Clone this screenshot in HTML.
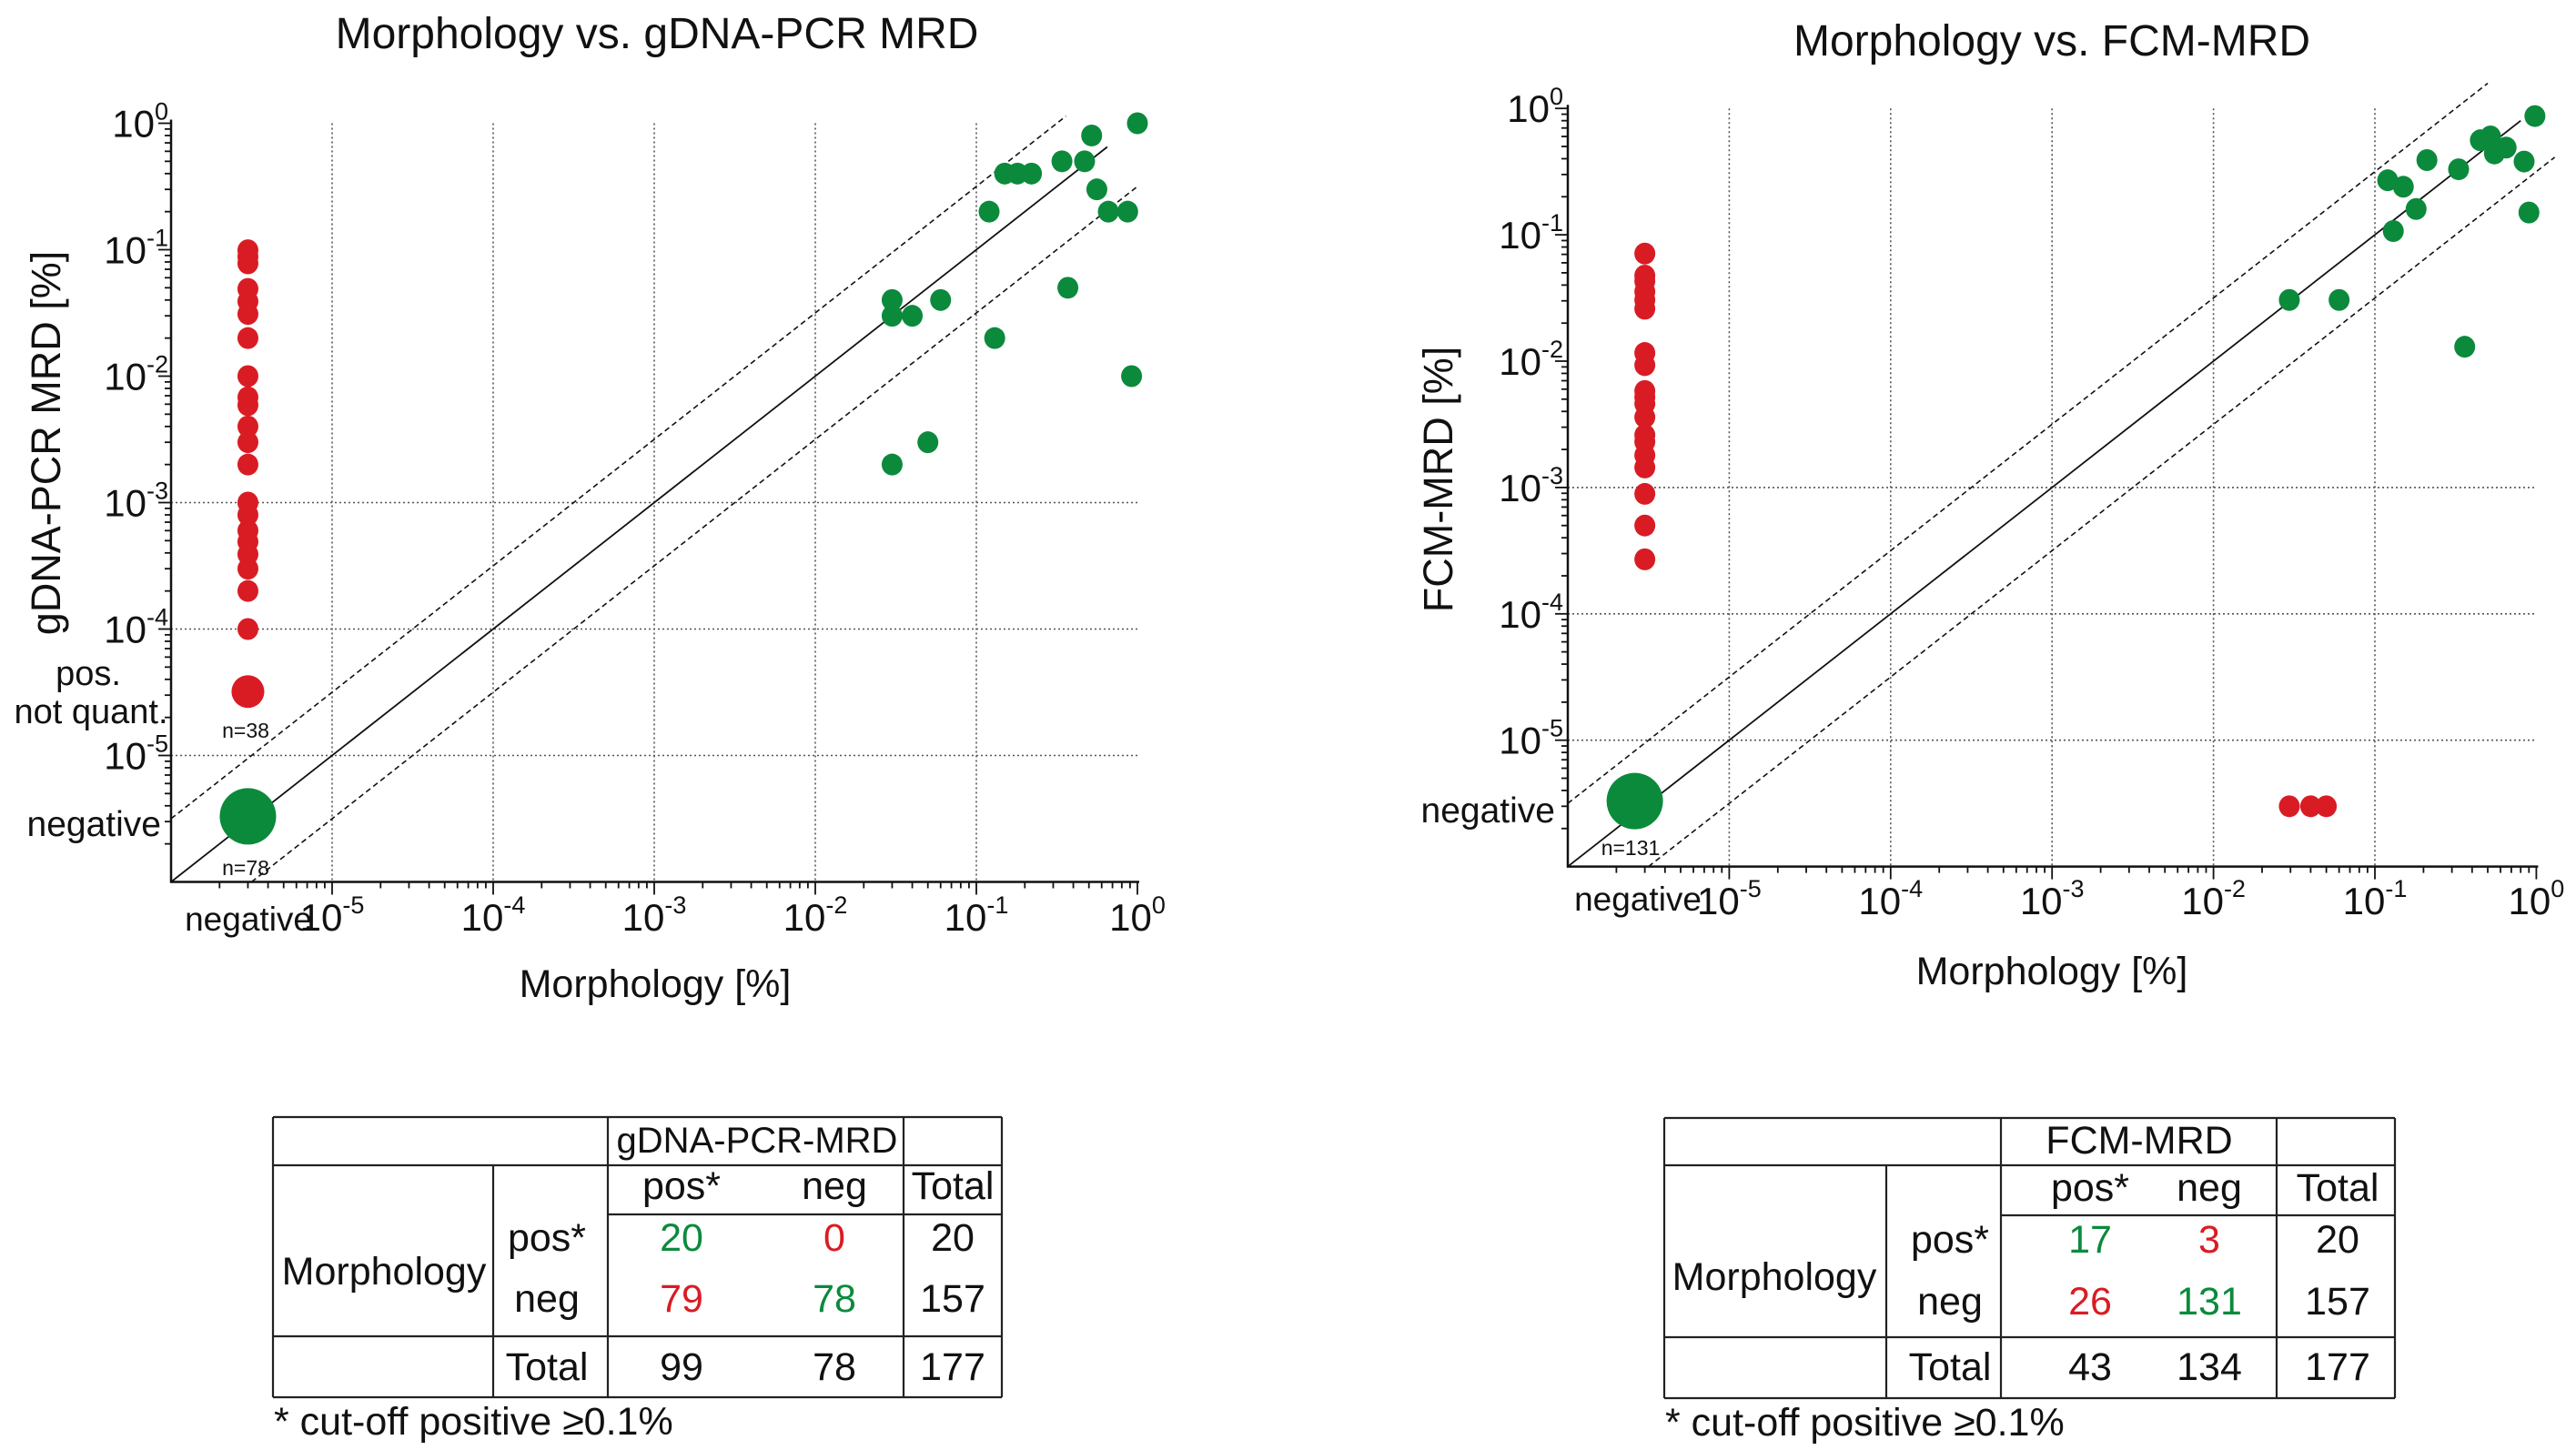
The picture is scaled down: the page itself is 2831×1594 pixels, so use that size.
<!DOCTYPE html>
<html><head><meta charset="utf-8">
<style>
html,body{margin:0;padding:0;background:#fff;}
svg{display:block;}
text{font-family:"Liberation Sans",sans-serif;fill:#111;}
.tb{font-family:"Liberation Sans Narrow","Liberation Sans",sans-serif;}
</style></head>
<body>
<svg id="fig" width="2831" height="1594" viewBox="0 0 2831 1594" xmlns="http://www.w3.org/2000/svg">
<g id="left"></g>
<g id="right"></g>
<g id="tables"></g>
</svg>
<script>
// ---- data ----
const decades = [-5,-4,-3,-2,-1,0];
const tickExps = ["-5","-4","-3","-2","-1","0"];
const negX = 3e-6;
// left chart: gDNA-PCR
const leftRedY = [0.099,0.088,0.078,0.049,0.039,0.031,0.02,0.01,0.0068,0.0059,0.004,0.003,0.002,0.001,0.0008,0.0006,0.00049,0.00039,0.0003,0.0002,0.0001];
const leftPnqY = [3.2e-5];
const leftNegY = [3.3e-6];
const leftGreenX = [1,0.52,0.34,0.47,0.15,0.18,0.22,0.56,0.12,0.66,0.87,0.37,0.03,0.03,0.04,0.06,0.13,0.92,0.05,0.03];
const leftGreenY = [1,0.8,0.5,0.5,0.4,0.4,0.4,0.3,0.2,0.2,0.2,0.05,0.04,0.03,0.03,0.04,0.02,0.01,0.003,0.002];
// right chart: FCM
const rightRedY = [0.071,0.0475,0.043,0.0355,0.0305,0.026,0.0116,0.0093,0.0058,0.0052,0.0046,0.0036,0.0026,0.0023,0.0018,0.00144,0.00089,0.0005,0.00027];
const rightNegY = [3.3e-6];
const rightRedBottomX = [0.0295,0.04,0.05];
const rightRedBottomY = [3e-6,3e-6,3e-6];
const rightGreenX = [0.98,0.45,0.52,0.55,0.65,0.84,0.21,0.33,0.12,0.15,0.18,0.13,0.9,0.0295,0.06,0.36];
const rightGreenY = [0.87,0.56,0.6,0.44,0.49,0.38,0.39,0.33,0.27,0.24,0.16,0.107,0.15,0.0305,0.0305,0.013];
// tables
const t1Header = "gDNA-PCR-MRD";
const t1Vals = [["20","0","20"],["79","78","157"],["99","78","177"]];
const t2Header = "FCM-MRD";
const t2Vals = [["17","3","20"],["26","131","157"],["43","134","177"]];

const NS="http://www.w3.org/2000/svg";
const GREEN="#0b8a3c", RED="#d91c24";
function mk(parent,tag,attrs,txt){const e=document.createElementNS(NS,tag);for(const k in attrs)e.setAttribute(k,attrs[k]);if(txt!==undefined)e.textContent=txt;parent.appendChild(e);return e;}

function chart(g,cfg){
  const sx=v=>cfg.x0+(Math.log10(v)+6)*cfg.dx;
  const sy=v=>cfg.yb-(Math.log10(v)+6)*cfg.dy;
  const xr=sx(1), yt=sy(1);
  decades.slice(0,5).forEach(d=>{
    const l=mk(g,'line',{x1:sx(Math.pow(10,d)),x2:sx(Math.pow(10,d)),y1:yt,y2:cfg.yb,stroke:'#555','stroke-width':1.6,'stroke-dasharray':'2,3'});
    
    
  });
  [-5,-4,-3].forEach(d=>{
    const l=mk(g,'line',{x1:cfg.x0,x2:xr,y1:sy(Math.pow(10,d)),y2:sy(Math.pow(10,d)),stroke:'#555','stroke-width':1.6,'stroke-dasharray':'2,3'});
    
    
  });
  const ax=mk(g,'path',{d:`M${cfg.x0},${yt-4} L${cfg.x0},${cfg.yb} L${xr+2},${cfg.yb}`,fill:'none',stroke:'#111','stroke-width':2.5});
  
  
  for(let d=-6; d<=0; d++){
    for(let m=1;m<=9;m++){
      const v=m*Math.pow(10,d); if(v>1.0001) break;
      const len=m===1?14:7;
      if(d>-6||m>1){
        mk(g,'line',{x1:sx(v),x2:sx(v),y1:cfg.yb,y2:cfg.yb+len,stroke:'#111','stroke-width':1.8});
        mk(g,'line',{x1:cfg.x0,x2:cfg.x0-len,y1:sy(v),y2:sy(v),stroke:'#111','stroke-width':1.8});
      }
    }
  }
  decades.forEach((d,i)=>{
    const v=Math.pow(10,d);
    const tx=mk(g,'text',{x:sx(v),y:cfg.xlabY+22,'font-size':42,'text-anchor':'middle'});
    
    
    mk(tx,'tspan',{},'10');mk(tx,'tspan',{'font-size':27,dy:-19},tickExps[i]);
    const ty=mk(g,'text',{x:cfg.ylabR,y:sy(v)+15,'font-size':42,'text-anchor':'end'});
    
    
    mk(ty,'tspan',{},'10');mk(ty,'tspan',{'font-size':27,dy:-19},tickExps[i]);
  });
  const k=Math.pow(10,0.5);
  const d1=mk(g,'line',{x1:sx(1e-6),y1:sy(1e-6),x2:sx(cfg.solidEnd),y2:sy(cfg.solidEnd),stroke:'#111','stroke-width':1.8});
  
  
  const d2=mk(g,'line',{x1:sx(1e-6),y1:sy(1e-6*k),x2:sx(cfg.upEnd),y2:sy(cfg.upEnd*k),stroke:'#111','stroke-width':1.6,'stroke-dasharray':'6,4'});
  
  
  const d3=mk(g,'line',{x1:sx(1e-6*k),y1:sy(1e-6),x2:sx(cfg.lowEnd),y2:sy(cfg.lowEnd/k),stroke:'#111','stroke-width':1.6,'stroke-dasharray':'6,4'});
  
  
  return {sx,sy};
}
function dot(g,x,y,rx,ry,c,name){
  const e=mk(g,'ellipse',{cx:x,cy:y,rx:rx,ry:ry,fill:c});
  
  
}
function label(g,x,y,s,size,anchor,name,extra){
  const e=mk(g,'text',Object.assign({x:x,y:y,'font-size':size,'text-anchor':anchor},extra||{}),s);
  
  
  return e;
}

// LEFT
const L=document.getElementById('left');
const lc=chart(L,{x0:188,dx:177,yb:969.5,dy:139,xlabY:1001,ylabR:185,solidEnd:0.65,upEnd:0.36,lowEnd:1});
leftRedY.forEach(v=>dot(L,lc.sx(negX),lc.sy(v),11.5,12,RED,'red-point'));
leftPnqY.forEach(v=>dot(L,lc.sx(negX),lc.sy(v),18,18,RED,'pos-not-quant-point'));
leftNegY.forEach(v=>dot(L,lc.sx(negX),lc.sy(v),31,31,GREEN,'negative-cluster'));
leftGreenX.forEach((x,i)=>dot(L,lc.sx(x),lc.sy(leftGreenY[i]),11.5,12,GREEN,'green-point'));
label(L,722,53,'Morphology vs. gDNA-PCR MRD',48,'middle','chart-title');
label(L,720,1096,'Morphology [%]',43,'middle','x-axis-title');
label(L,0,0,'gDNA-PCR MRD [%]',45,'middle','y-axis-title',{transform:'translate(66,487) rotate(-90)'});
label(L,177,919,'negative',39,'end','y-negative-label');
label(L,97,753,'pos.',38,'middle','pos-label');
label(L,100,795,'not quant.',38,'middle','not-quant-label');
label(L,270,811,'n=38',23,'middle','n-pos-label');
label(L,270,962,'n=78',23,'middle','n-neg-label');
label(L,343,1023,'negative',37,'end','x-negative-label');

// RIGHT
const R=document.getElementById('right');
const rc=chart(R,{x0:1723,dx:177.4,yb:952.6,dy:138.9,xlabY:983,ylabR:1718,solidEnd:0.8,upEnd:0.5,lowEnd:1.3});
rightRedY.forEach(v=>dot(R,rc.sx(negX),rc.sy(v),11.5,12,RED,'red-point'));
rightNegY.forEach(v=>dot(R,rc.sx(2.6e-6),rc.sy(v),31,31,GREEN,'negative-cluster'));
rightRedBottomX.forEach((x,i)=>dot(R,rc.sx(x),rc.sy(rightRedBottomY[i]),11.5,12,RED,'red-point'));
rightGreenX.forEach((x,i)=>dot(R,rc.sx(x),rc.sy(rightGreenY[i]),11.5,12,GREEN,'green-point'));
label(R,2255,61,'Morphology vs. FCM-MRD',48,'middle','chart-title');
label(R,2255,1082,'Morphology [%]',43,'middle','x-axis-title');
label(R,0,0,'FCM-MRD [%]',45,'middle','y-axis-title',{transform:'translate(1596,527) rotate(-90)'});
label(R,1709,904,'negative',39,'end','y-negative-label');
label(R,1792,940,'n=131',23,'middle','n-neg-label');
label(R,1870,1001,'negative',37,'end','x-negative-label');

// TABLES
const T=document.getElementById('tables');
function table(c){
  const g=mk(T,'g',{});
  
  
  const ln=(x1,y1,x2,y2)=>mk(g,'line',{x1,y1,x2,y2,stroke:'#222','stroke-width':2.2});
  const [L0,C1,C2,C3,R0]=c.cols, [T0,R1,R2,R3,B0]=c.rows;
  ln(L0,T0,R0,T0);ln(L0,R1,R0,R1);ln(C2,R2,R0,R2);ln(L0,R3,R0,R3);ln(L0,B0,R0,B0);
  ln(L0,T0,L0,B0);ln(C1,R1,C1,B0);ln(C2,T0,C2,B0);ln(C3,T0,C3,B0);ln(R0,T0,R0,B0);
  const t=(x,y,s,col,name,fs)=>{const e=mk(g,'text',{x:x,y:y+15,'font-size':fs||43,'text-anchor':'middle','class':'tb',style:'fill:'+col},s);};
  const [xp,xn,xt,xh,xm,xr]=c.cx, [yh,yc,y1,y2,y3,ym]=c.cy;
  t(xh,yh,c.header,'#111','table-header',c.hfs);
  t(xp,yc,'pos*','#111','col-pos');t(xn,yc,'neg','#111','col-neg');t(xt,yc,'Total','#111','col-total');
  t(xm,ym,'Morphology','#111','row-group-label');
  t(xr,y1,'pos*','#111','row-pos');t(xr,y2,'neg','#111','row-neg');t(xr,y3,'Total','#111','row-total');
  const cols=[[GREEN,RED,'#111'],[RED,GREEN,'#111'],['#111','#111','#111']];
  const ys=[y1,y2,y3];
  c.vals.forEach((row,i)=>row.forEach((v,j)=>t([xp,xn,xt][j],ys[i],v,cols[i][j],'table-cell')));
  const f=mk(g,'text',{x:L0+1,y:c.rows[4]+41,'font-size':43,'class':'tb'},'* cut-off positive \u22650.1%');
  
  
}
table({name:'gdna-table',header:t1Header,hfs:40,vals:t1Vals,cols:[300,542,668,993,1101],rows:[1228,1281,1335,1469,1536],cx:[749,917,1047,832,422,601],cy:[1252,1303,1360,1427,1502,1397]});
table({name:'fcm-table',header:t2Header,hfs:43,vals:t2Vals,cols:[1829,2073,2199,2502,2632],rows:[1229,1281,1336,1470,1537],cx:[2297,2428,2569,2351,1950,2143],cy:[1253,1305,1362,1430,1502,1403]});
</script>
</body></html>
